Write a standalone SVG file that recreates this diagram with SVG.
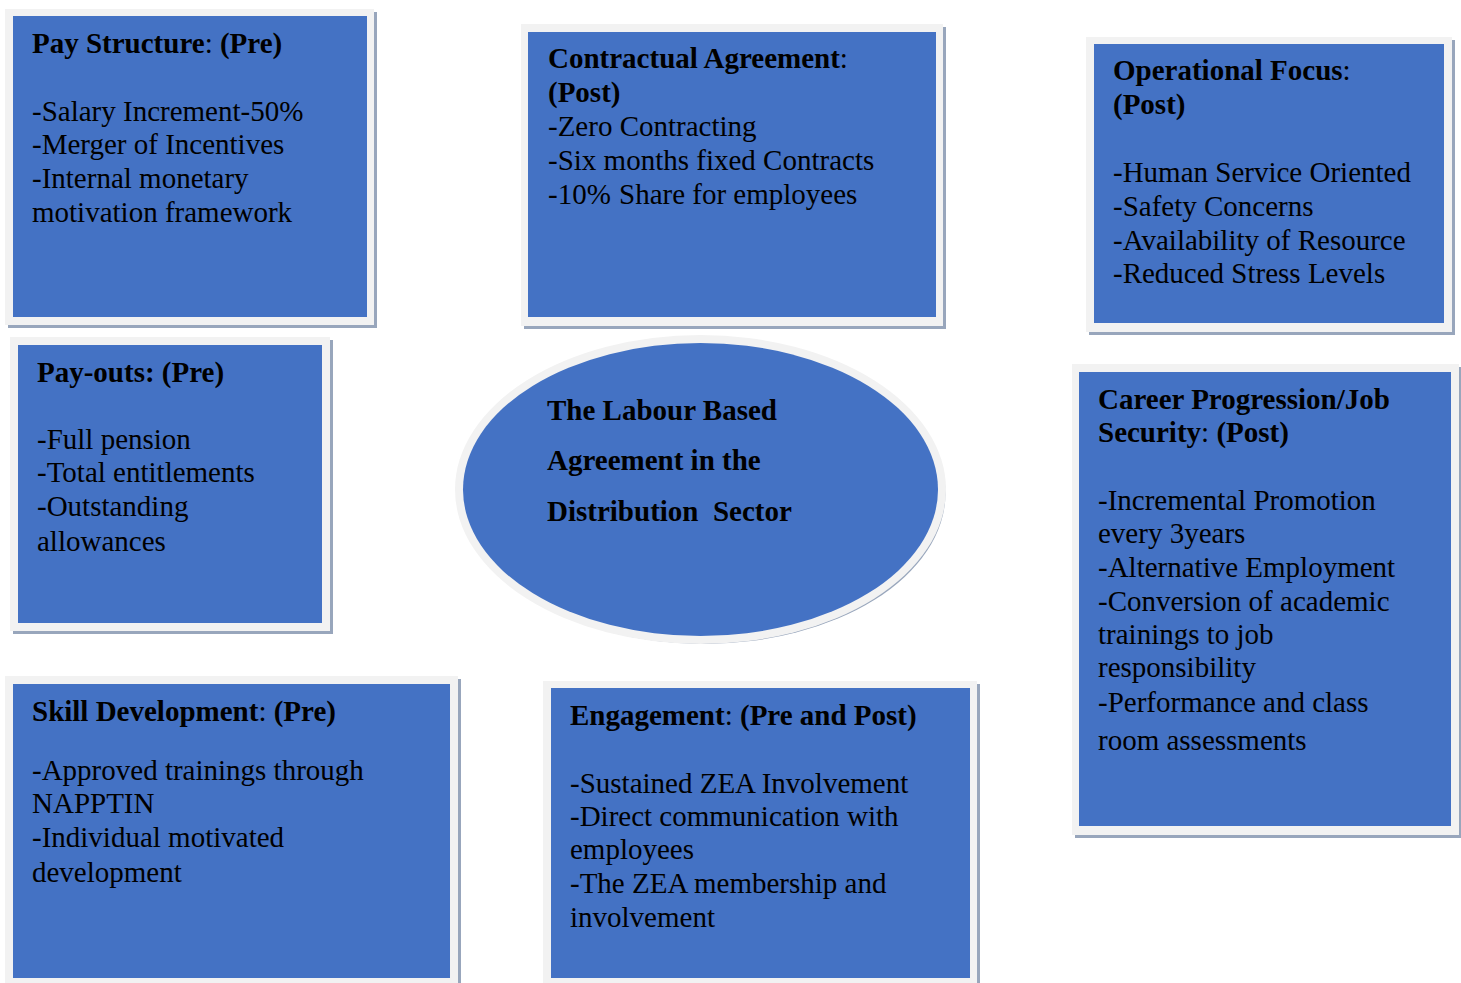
<svg xmlns="http://www.w3.org/2000/svg" width="1461" height="983" viewBox="0 0 1461 983">
<style>
.sh{fill:#98a6bc}
.fr{fill:#f2f2f2}
.bx{fill:#4472c4}
text{font-family:"Liberation Serif","Times New Roman",serif;font-size:29px;fill:#000}
.b{font-weight:bold}
</style>
<rect width="1461" height="983" fill="#fff"/>
<g id="connectors"></g>
<g id="pay-structure">
<rect class="sh" x="8" y="12" width="369" height="316"/>
<rect class="fr" x="5" y="9" width="369" height="316"/>
<rect class="bx" x="13" y="16" width="354" height="301"/>
<text x="32" y="53"><tspan class="b">Pay Structure</tspan>: <tspan class="b">(Pre)</tspan></text>
<text x="32" y="121">-Salary Increment-50%</text>
<text x="32" y="154">-Merger of Incentives</text>
<text x="32" y="188">-Internal monetary</text>
<text x="32" y="222">motivation framework</text>
</g>
<g id="contractual-agreement">
<rect class="sh" x="524" y="27" width="422" height="302"/>
<rect class="fr" x="521" y="24" width="422" height="302"/>
<rect class="bx" x="528" y="32" width="408" height="285"/>
<text x="548" y="68"><tspan class="b">Contractual Agreement</tspan>:</text>
<text x="548" y="102" class="b">(Post)</text>
<text x="548" y="136">-Zero Contracting</text>
<text x="548" y="170">-Six months fixed Contracts</text>
<text x="548" y="204">-10% <tspan x="619">Share for employees</tspan></text>
</g>
<g id="operational-focus">
<rect class="sh" x="1089" y="40" width="366" height="295"/>
<rect class="fr" x="1086" y="37" width="366" height="295"/>
<rect class="bx" x="1094" y="44" width="350" height="279"/>
<text x="1113" y="80"><tspan class="b">Operational Focus</tspan>:</text>
<text x="1113" y="114" class="b">(Post)</text>
<text x="1113" y="182">-Human Service Oriented</text>
<text x="1113" y="216">-Safety Concerns</text>
<text x="1113" y="250">-Availability of Resource</text>
<text x="1113" y="283">-Reduced Stress Levels</text>
</g>
<g id="pay-outs">
<rect class="sh" x="13" y="340" width="320" height="294"/>
<rect class="fr" x="10" y="337" width="320" height="294"/>
<rect class="bx" x="18" y="345" width="304" height="278"/>
<text x="37" y="382" class="b">Pay-outs: (Pre)</text>
<text x="37" y="449">-Full pension</text>
<text x="37" y="482">-Total entitlements</text>
<text x="37" y="516">-Outstanding</text>
<text x="37" y="551">allowances</text>
</g>
<g id="center">
<ellipse cx="703.5" cy="493" rx="242" ry="151" fill="#98a6bc"/>
<ellipse cx="700.5" cy="489.5" rx="245.5" ry="154.5" fill="#f2f2f2"/>
<ellipse cx="700.5" cy="489.5" rx="237.5" ry="146.5" class="bx"/>
<text x="547" y="420" class="b">The Labour Based</text>
<text x="547" y="470" class="b">Agreement in the</text>
<text x="547" y="521" class="b" style="white-space:pre">Distribution  Sector</text>
</g>
<g id="career-progression">
<rect class="sh" x="1075" y="367" width="387" height="471"/>
<rect class="fr" x="1072" y="364" width="387" height="471"/>
<rect class="bx" x="1079" y="372" width="372" height="454"/>
<text x="1098" y="409" class="b">Career Progression/Job</text>
<text x="1098" y="442"><tspan class="b">Security</tspan>: <tspan class="b">(Post)</tspan></text>
<text x="1098" y="510">-Incremental Promotion</text>
<text x="1098" y="543">every 3years</text>
<text x="1098" y="577">-Alternative Employment</text>
<text x="1098" y="611">-Conversion of academic</text>
<text x="1098" y="644">trainings to job</text>
<text x="1098" y="677">responsibility</text>
<text x="1098" y="712">-Performance and class</text>
<text x="1098" y="750">room assessments</text>
</g>
<g id="skill-development">
<rect class="sh" x="8" y="679" width="453" height="310"/>
<rect class="fr" x="5" y="676" width="453" height="310"/>
<rect class="bx" x="13" y="684" width="437" height="294"/>
<text x="32" y="721"><tspan class="b">Skill Development</tspan>: <tspan class="b">(Pre)</tspan></text>
<text x="32" y="780">-Approved trainings through</text>
<text x="32" y="813">NAPPTIN</text>
<text x="32" y="847">-Individual motivated</text>
<text x="32" y="882">development</text>
</g>
<g id="engagement">
<rect class="sh" x="546" y="684" width="434" height="305"/>
<rect class="fr" x="543" y="681" width="434" height="305"/>
<rect class="bx" x="551" y="688" width="419" height="290"/>
<text x="570" y="725"><tspan class="b">Engagement</tspan>: <tspan class="b">(Pre and Post)</tspan></text>
<text x="570" y="793">-Sustained ZEA Involvement</text>
<text x="570" y="826">-Direct communication with</text>
<text x="570" y="859">employees</text>
<text x="570" y="893">-The ZEA membership and</text>
<text x="570" y="927">involvement</text>
</g>
</svg>
